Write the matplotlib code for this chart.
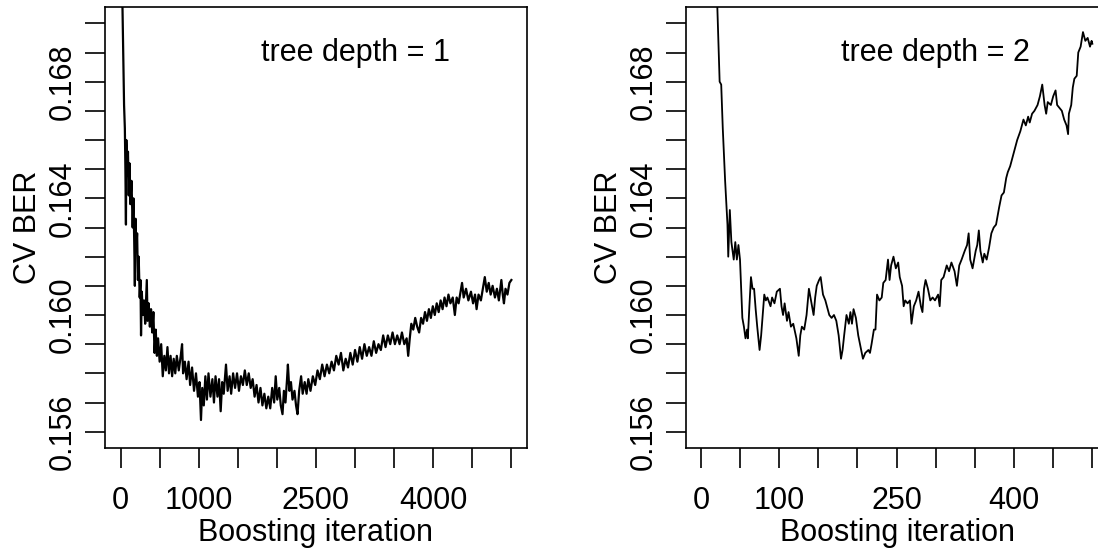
import matplotlib.pyplot as plt

# CV balanced error rate vs boosting iteration
depth1_curve = [
    (1, 0.1740), (25, 0.1705), (45, 0.1672), (55, 0.1664), (62, 0.1650), (69, 0.1631),
    (74, 0.1660), (85, 0.1648), (95, 0.1656), (105, 0.1641), (115, 0.1652), (125, 0.1638),
    (140, 0.1646), (155, 0.1630), (165, 0.1640), (175, 0.1625), (183, 0.1610), (192, 0.1633),
    (200, 0.1622), (212, 0.1628), (222, 0.1612), (232, 0.1620), (245, 0.1606), (255, 0.1612),
    (262, 0.1593), (272, 0.1608), (285, 0.1600), (300, 0.1605), (315, 0.1597), (328, 0.1606),
    (336, 0.1612), (345, 0.1598), (360, 0.1604), (375, 0.1596), (390, 0.1602), (405, 0.1594),
    (420, 0.1601), (435, 0.1587), (450, 0.1595), (465, 0.1586), (480, 0.1592), (500, 0.1584),
    (520, 0.1590), (540, 0.1579), (560, 0.1586), (580, 0.1581), (600, 0.1589), (620, 0.1580),
    (640, 0.1586), (660, 0.1579), (680, 0.1585), (700, 0.1580), (720, 0.1586), (745, 0.1581),
    (770, 0.1586), (787, 0.1590), (800, 0.1580), (823, 0.1584), (845, 0.1578), (870, 0.1584),
    (890, 0.1576), (915, 0.1582), (940, 0.1574), (965, 0.1580), (990, 0.1572), (1010, 0.1577),
    (1029, 0.1564), (1045, 0.1575), (1065, 0.1569), (1085, 0.1579), (1105, 0.1571), (1125, 0.1580),
    (1150, 0.1572), (1175, 0.1578), (1195, 0.1570), (1215, 0.1579), (1240, 0.1572), (1260, 0.1578),
    (1281, 0.1567), (1300, 0.1577), (1320, 0.1573), (1349, 0.1583), (1370, 0.1574), (1395, 0.1579),
    (1415, 0.1573), (1440, 0.1580), (1465, 0.1575), (1490, 0.1580), (1515, 0.1574), (1540, 0.1579),
    (1565, 0.1576), (1590, 0.1581), (1615, 0.1576), (1640, 0.1580), (1665, 0.1575), (1690, 0.1578),
    (1715, 0.1572), (1740, 0.1576), (1765, 0.1570), (1790, 0.1575), (1815, 0.1569), (1840, 0.1573),
    (1865, 0.1568), (1890, 0.1572), (1915, 0.1568), (1940, 0.1575), (1965, 0.1570), (1985, 0.1579),
    (2005, 0.1571), (2030, 0.1575), (2050, 0.1569), (2072, 0.1566), (2090, 0.1574), (2110, 0.1570),
    (2130, 0.1578), (2141, 0.1583), (2160, 0.1574), (2180, 0.1577), (2200, 0.1571), (2225, 0.1574),
    (2245, 0.1569), (2264, 0.1566), (2285, 0.1574), (2310, 0.1579), (2330, 0.1573), (2356, 0.1577),
    (2380, 0.1573), (2402, 0.1578), (2430, 0.1574), (2460, 0.1579), (2490, 0.1576), (2520, 0.1581),
    (2550, 0.1578), (2580, 0.1583), (2610, 0.1579), (2640, 0.1583), (2670, 0.1580), (2700, 0.1584),
    (2730, 0.1581), (2760, 0.1586), (2790, 0.1583), (2820, 0.1587), (2850, 0.1581), (2880, 0.1585),
    (2910, 0.1582), (2940, 0.1587), (2970, 0.1583), (3000, 0.1588), (3030, 0.1584), (3060, 0.1589),
    (3090, 0.1585), (3120, 0.1590), (3150, 0.1586), (3180, 0.1589), (3210, 0.1586), (3240, 0.1591),
    (3270, 0.1587), (3300, 0.1590), (3330, 0.1588), (3360, 0.1593), (3390, 0.1589), (3420, 0.1593),
    (3450, 0.1590), (3480, 0.1594), (3510, 0.1590), (3540, 0.1593), (3570, 0.1590), (3600, 0.1594),
    (3630, 0.1590), (3660, 0.1592), (3680, 0.1586), (3700, 0.1592), (3720, 0.1597), (3745, 0.1595),
    (3770, 0.1599), (3795, 0.1596), (3820, 0.1594), (3845, 0.1599), (3870, 0.1597), (3895, 0.1601),
    (3920, 0.1598), (3945, 0.1602), (3970, 0.1599), (3995, 0.1603), (4020, 0.1600), (4045, 0.1604),
    (4070, 0.1601), (4095, 0.1605), (4120, 0.1602), (4145, 0.1606), (4170, 0.1603), (4195, 0.1607),
    (4220, 0.1604), (4250, 0.1606), (4277, 0.1600), (4300, 0.1606), (4325, 0.1604), (4350, 0.1608),
    (4369, 0.1611), (4390, 0.1606), (4420, 0.1609), (4450, 0.1605), (4483, 0.1608), (4510, 0.1604),
    (4535, 0.1607), (4555, 0.1602), (4580, 0.1607), (4610, 0.1605), (4635, 0.1609), (4660, 0.1613),
    (4685, 0.1608), (4710, 0.1611), (4735, 0.1607), (4760, 0.1610), (4790, 0.1606), (4815, 0.1609),
    (4840, 0.1605), (4872, 0.1612), (4890, 0.1607), (4905, 0.1604), (4925, 0.1609), (4950, 0.1607),
    (4975, 0.1611), (5000, 0.1612),
]

depth2_curve = [
    (1, 0.1760), (21, 0.1706), (24, 0.1680), (26, 0.1679), (28, 0.1664), (31, 0.1646),
    (34, 0.1631), (35, 0.1620), (37, 0.1636), (39, 0.1625), (42, 0.1619), (44, 0.1625),
    (46, 0.1619), (48, 0.1624), (50, 0.1619), (53, 0.1599), (55, 0.1596), (57, 0.1592),
    (59, 0.1595), (60, 0.1592), (62, 0.1603), (64, 0.1613), (66, 0.1609), (68, 0.1609),
    (70, 0.1602), (72, 0.1596), (75, 0.1588), (77, 0.1593), (79, 0.1600), (81, 0.1607),
    (83, 0.1605), (85, 0.1606), (89, 0.1603), (91, 0.1606), (94, 0.1604), (97, 0.1608),
    (101, 0.1609), (103, 0.1603), (105, 0.1600), (107, 0.1604), (110, 0.1598), (112, 0.1601),
    (115, 0.1596), (118, 0.1597), (122, 0.1592), (125, 0.1586), (127, 0.1593), (129, 0.1596),
    (132, 0.1595), (135, 0.1600), (138, 0.1609), (140, 0.1606), (144, 0.1600), (146, 0.1606),
    (148, 0.1610), (151, 0.1612), (153, 0.1613), (156, 0.1607), (159, 0.1605), (161, 0.1603),
    (164, 0.1600), (167, 0.1599), (170, 0.1600), (173, 0.1598), (176, 0.1593), (179, 0.1585),
    (181, 0.1588), (183, 0.1593), (186, 0.1600), (189, 0.1597), (191, 0.1601), (193, 0.1597),
    (195, 0.1602), (198, 0.1599), (201, 0.1593), (204, 0.1589), (207, 0.1585), (210, 0.1587),
    (214, 0.1588), (216, 0.1587), (218, 0.1590), (221, 0.1595), (223, 0.1595), (225, 0.1607),
    (228, 0.1605), (231, 0.1606), (233, 0.1611), (236, 0.1612), (239, 0.1619), (241, 0.1612),
    (243, 0.1617), (246, 0.1620), (249, 0.1616), (252, 0.1618), (254, 0.1613), (257, 0.1610),
    (259, 0.1603), (261, 0.1605), (264, 0.1604), (267, 0.1605), (269, 0.1597), (272, 0.1603),
    (275, 0.1605), (278, 0.1608), (281, 0.1603), (283, 0.1601), (285, 0.1609), (287, 0.1612),
    (290, 0.1609), (293, 0.1605), (296, 0.1606), (299, 0.1605), (303, 0.1607), (305, 0.1603),
    (307, 0.1612), (310, 0.1613), (314, 0.1617), (317, 0.1615), (320, 0.1618), (324, 0.1615),
    (327, 0.1610), (330, 0.1617), (333, 0.1619), (337, 0.1622), (340, 0.1624), (342, 0.1628),
    (344, 0.1619), (347, 0.1616), (351, 0.1622), (353, 0.1624), (355, 0.1629), (357, 0.1622),
    (360, 0.1618), (362, 0.1621), (365, 0.1619), (368, 0.1623), (371, 0.1628), (374, 0.1630),
    (377, 0.1631), (381, 0.1637), (384, 0.1641), (387, 0.1642), (390, 0.1647), (392, 0.1649),
    (395, 0.1651), (398, 0.1654), (401, 0.1657), (404, 0.1660), (408, 0.1663), (410, 0.1665),
    (412, 0.1667), (415, 0.1665), (418, 0.1668), (420, 0.1666), (423, 0.1669), (426, 0.1670),
    (430, 0.1672), (433, 0.1675), (436, 0.1679), (439, 0.1672), (441, 0.1669), (443, 0.1673),
    (447, 0.1672), (450, 0.1675), (453, 0.1677), (455, 0.1672), (458, 0.1671), (461, 0.1670),
    (464, 0.1667), (467, 0.1665), (469, 0.1662), (470, 0.1669), (473, 0.1672), (475, 0.1678),
    (477, 0.1681), (480, 0.1682), (482, 0.1690), (485, 0.1692), (488, 0.1697), (491, 0.1694),
    (494, 0.1695), (497, 0.1692), (499, 0.1694), (500, 0.1693),
]

ytick_values = [0.156, 0.157, 0.158, 0.159, 0.160, 0.161, 0.162, 0.163,
                0.164, 0.165, 0.166, 0.167, 0.168, 0.169, 0.170]
ytick_labels = ["0.156", "", "", "", "0.160", "", "", "",
                "0.164", "", "", "", "0.168", "", ""]

depth1_xticks = [0, 500, 1000, 1500, 2000, 2500, 3000, 3500, 4000, 4500, 5000]
depth1_xlabels = ["0", "", "1000", "", "", "2500", "", "", "4000", "", ""]
depth2_xticks = [0, 50, 100, 150, 200, 250, 300, 350, 400, 450, 500]
depth2_xlabels = ["0", "", "100", "", "", "250", "", "", "400", "", ""]

panel_titles = ["tree depth = 1", "tree depth = 2"]

plt.rcParams['font.family'] = ['Liberation Sans', 'DejaVu Sans']
FS = 22

fig = plt.figure(figsize=(10.98, 5.49), dpi=100)
W, H = 1098.0, 549.0
ax1 = fig.add_axes([105 / W, (H - 448) / H, 422 / W, 441 / H])
ax2 = fig.add_axes([686 / W, (H - 448) / H, 422 / W, 441 / H])

panels = [
    (ax1, depth1_curve, depth1_xticks, depth1_xlabels, 5000, 3000, 1.6),
    (ax2, depth2_curve, depth2_xticks, depth2_xlabels, 500, 300, 1.3),
]

for (ax, curve, xt, xl, n, text_x, lw), title in zip(panels, panel_titles):
    xs = [p[0] for p in curve]
    ys = [p[1] for p in curve]
    ax.plot(xs, ys, color='black', linewidth=lw)

    # R style 4% padding around the data / ylim
    pad_x = 0.04 * (n - 1)
    ax.set_xlim(1 - pad_x, n + pad_x)
    pad_y = 0.04 * (0.170 - 0.156)
    ax.set_ylim(0.156 - pad_y, 0.170 + pad_y)

    ax.set_xticks(xt)
    ax.set_xticklabels(xl)
    ax.set_yticks(ytick_values)
    ax.set_yticklabels(ytick_labels, rotation=90, va='center')

    ax.tick_params(axis='both', direction='out', length=14.4, width=1.2,
                   labelsize=FS, color='black')
    ax.tick_params(axis='x', pad=13)
    ax.tick_params(axis='y', pad=5.5)
    for s in ax.spines.values():
        s.set_linewidth(1.2)

    ax.set_xlabel('Boosting iteration', fontsize=FS)
    ax.set_ylabel('CV BER', fontsize=FS)
    ax.xaxis.set_label_coords(0.5, -0.159)
    ax.yaxis.set_label_coords(-0.148, 0.5)

    ax.text(text_x, 0.16872, title, ha='center', va='baseline', fontsize=FS)

fig.savefig('out.png', dpi=100)
